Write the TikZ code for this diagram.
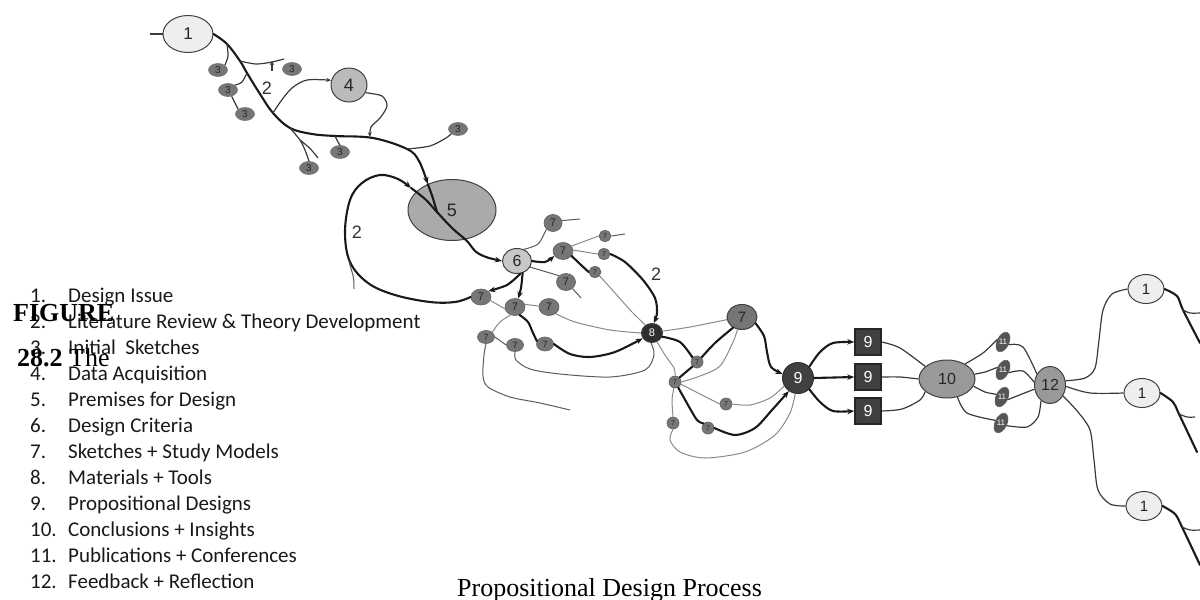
\documentclass[tikz,border=0pt]{standalone}
\usepackage{fontspec}
\setmainfont{Liberation Serif}
\newfontfamily\lab{Liberation Sans}
\newfontfamily\legfont{Carlito}
\usetikzlibrary{shapes.geometric,arrows.meta}
\definecolor{cA}{HTML}{EEEEEE}
\definecolor{cB}{HTML}{BBBBBB}
\definecolor{cC}{HTML}{AAAAAA}
\definecolor{cD}{HTML}{C8C8C8}
\definecolor{cE}{HTML}{767676}
\definecolor{cF}{HTML}{2E2E2E}
\definecolor{cG}{HTML}{404040}
\definecolor{cH}{HTML}{999999}
\definecolor{cI}{HTML}{555555}
\definecolor{lnthin}{HTML}{5A5A5A}
\definecolor{lnlite}{HTML}{8A8A8A}
\definecolor{lndark}{HTML}{3A3A3A}
\tikzset{
  fs/.style={font=\lab\fontsize{#1}{#1}\selectfont},
  thk/.style={line width=2.1pt, draw=black!90, line cap=round},
  thn/.style={line width=1pt, draw=lnthin},
  lite/.style={line width=1pt, draw=lnlite},
  dk/.style={line width=1.2pt, draw=lndark},
  tip/.style={-{Stealth[length=7pt,width=5.5pt]}},
  stip/.style={-{Stealth[length=5pt,width=4pt]}},
  big/.style={ellipse, draw=black!75, line width=1pt, inner sep=0pt, text=black!85},
  sthree/.style={ellipse, draw=black!55, line width=0.6pt, fill=cE, minimum width=19pt, minimum height=13pt, inner sep=0pt, fs=10, text=black!85},
  sseven/.style={ellipse, draw=black!60, line width=0.7pt, fill=cE, minimum width=20pt, minimum height=17pt, inner sep=0pt, fs=11, text=black!85},
  mseven/.style={sseven, minimum width=17pt, minimum height=13pt, fs=9},
  tseven/.style={sseven, minimum width=12pt, minimum height=11pt, fs=7},
  box9/.style={rectangle, draw=black!85, line width=1.6pt, fill=cG, minimum size=26pt, inner sep=0pt, fs=16, text=white},
  eleven/.style={ellipse, draw=black!60, line width=0.6pt, fill=cI, minimum width=12pt, minimum height=21pt, inner sep=0pt},
  twolab/.style={fs=18, text=black!80},
  leg/.style={font=\legfont\fontsize{21}{21}\selectfont, anchor=base west, inner sep=0pt, text=black!90}
}
\begin{document}
\begin{tikzpicture}[x=1pt,y=-1pt]
\useasboundingbox (0,0) rectangle (1200,600);

% ---------- nodes ----------
\node[big, fill=cA, minimum width=50pt, minimum height=37pt, fs=17] (t1) at (188,34) {1};
\node[big, fill=cB, minimum width=36pt, minimum height=34pt, fs=18] (four) at (349,85) {4};
\node[big, fill=cC, minimum width=88pt, minimum height=61pt, fs=18] (five) at (452,210) {5};
\node[big, fill=cD, minimum width=29pt, minimum height=25pt, fs=16] (six) at (517,261) {6};

\node[sthree] (ta) at (218,70) {3};
\node[sthree] (tb) at (228,90) {3};
\node[sthree] (tc) at (245,114) {3};
\node[sthree] (td) at (292,69) {3};
\node[sthree] (te) at (458,129) {3};
\node[sthree] (tf) at (340,152) {3};
\node[sthree] (tg) at (309,168) {3};

\node[sseven, minimum width=18pt] (sa) at (553,223) {7};
\node[tseven] (sb) at (605,236) {7};
\node[sseven] (sc) at (563,251) {7};
\node[tseven] (sd) at (604,254) {7};
\node[tseven] (se) at (595,272) {7};
\node[sseven, minimum width=19pt] (sf) at (566,282) {7};
\node[sseven, minimum height=16pt] (sg) at (481,297) {7};
\node[sseven] (sh) at (515,307) {7};
\node[sseven] (si) at (549,307) {7};
\node[mseven] (sj) at (486,337) {7};
\node[mseven] (sk) at (515,345) {7};
\node[mseven, minimum height=14pt] (sl) at (545,344) {7};

\node[big, fill=cF, minimum width=21pt, minimum height=19pt, fs=11, text=white] (eight) at (652,333) {8};
\node[big, fill=cE, minimum width=30pt, minimum height=25pt, fs=15] (sm) at (742,317) {7};
\node[tseven, minimum height=12pt] (un) at (697,362) {7};
\node[tseven, minimum height=12pt] (uo) at (675,382) {7};
\node[tseven, minimum height=12pt] (up) at (726,404) {7};
\node[tseven, minimum height=12pt] (uq) at (673,423) {7};
\node[tseven, minimum height=12pt] (ur) at (708,428) {7};

\node[circle, draw=black!80, line width=1pt, fill=cG, minimum size=31pt, inner sep=0pt, fs=16, text=white] (nine) at (798,378) {9};
\node[box9] (b1) at (868,342) {9};
\node[box9] (b2) at (868,377) {9};
\node[box9] (b3) at (868,411) {9};

\node[big, fill=cH, minimum width=56pt, minimum height=38pt, fs=16] (ten) at (947,379) {10};

\node[eleven, rotate=-25] (ea) at (1003,342) {};
\node[eleven, rotate=-25] (eb) at (1003,370) {};
\node[eleven, rotate=-25] (ec) at (1002,397) {};
\node[eleven, rotate=-25] (ed) at (1001,423) {};
\node[fs=8, text=white, inner sep=0pt] (la) at (ea) {11};
\node[fs=8, text=white, inner sep=0pt] (lb) at (eb) {11};
\node[fs=8, text=white, inner sep=0pt] (lc) at (ec) {11};
\node[fs=8, text=white, inner sep=0pt] (ld) at (ed) {11};

\node[big, fill=cH, minimum width=31pt, minimum height=37pt, fs=16] (twelve) at (1050,385) {12};
\node[big, fill=cA, minimum width=36pt, minimum height=29pt, fs=15] (ra) at (1146,289) {1};
\node[big, fill=cA, minimum width=36pt, minimum height=29pt, fs=15] (rb) at (1142,393) {1};
\node[big, fill=cA, minimum width=36pt, minimum height=29pt, fs=15] (rc) at (1144,506) {1};

\node[twolab] (two1) at (267,88) {2};
\node[twolab] (two2) at (357,232) {2};
\node[twolab] (two3) at (656,274) {2};

% ---------- free coordinates ----------
\coordinate (lin) at (150,34);
\coordinate (m1) at (227,44);
\coordinate (m2) at (240,61);
\coordinate (m3) at (247,73);
\coordinate (m4) at (273,113);
\coordinate (m5) at (290,128);
\coordinate (m5b) at (300,140);
\coordinate (m6) at (335,136);
\coordinate (m7) at (407,149);
\coordinate (m4b) at (370,137);
\coordinate (e1) at (284,59);
\coordinate (e2) at (318,158);
\coordinate (tk) at (272,71);
\coordinate (tkt) at (272,61);
\coordinate (x5) at (437,212);
\coordinate (l5) at (411,188);
\coordinate (tail2) at (354,289);
\coordinate (tail2b) at (349,262);
\coordinate (ea7) at (580,219);
\coordinate (eb7) at (625,234);
\coordinate (ef7) at (581,298);
\coordinate (ej7) at (570,410);
\coordinate (ra1) at (1200,343);
\coordinate (ra2) at (1183,310);
\coordinate (ra3) at (1200,313);
\coordinate (rb1) at (1197,452);
\coordinate (rb2) at (1179,414);
\coordinate (rb3) at (1195,417);
\coordinate (rc1) at (1200,565);
\coordinate (rc2) at (1182,527);
\coordinate (rc3) at (1200,530);

% ---------- top-left ----------
\draw[dk] (lin) -- (t1.west);
\draw[thk,tip] plot[smooth,tension=0.6] coordinates {(t1.east) (m1) (m2) (m3) (260,94) (m4) (m5) (312,134) (m6) (373,138) (m7) (419,161) (five.133)};
\draw[thk] (five.133) .. controls (432,195) .. (x5);
\draw[dk] plot[smooth] coordinates {(m1) (228,56) (ta.north east)};
\draw[dk] plot[smooth] coordinates {(m2) (256,64) (272,62) (e1)};
\draw[dk,-{Stealth[length=4pt,width=4pt]}] (tk) -- (tkt);
\draw[dk] plot[smooth] coordinates {(m3) (242,82) (tb.north east)};
\draw[dk] (tb.-60) -- (tc.north west);
\draw[dk,stip] plot[smooth] coordinates {(m4) (281,101) (292,88) (307,80) (four.165)};
\draw[dk,stip] plot[smooth] coordinates {(four.-25) (382,96) (387,106) (380,118) (371,127) (m4b)};
\draw[dk] plot[smooth] coordinates {(m5) (m5b) (305,150) (tg.north)};
\draw[dk] (m5b) .. controls (310,148) .. (e2);
\draw[dk] plot[smooth] coordinates {(m6) (338,142) (tf.north)};
\draw[dk] plot[smooth] coordinates {(m7) (430,146) (446,138) (te.south west)};

% ---------- loop and 5 -> 6 ----------
\draw[thk,tip] plot[smooth,tension=0.6] coordinates {(sg.west) (455,302) (430,302) (395,295) (368,283) (350,262) (345,232) (350,200) (362,183) (380,175) (398,179) (l5)};
\draw[thk,tip] plot[smooth,tension=0.6] coordinates {(l5) (425,199) (x5) (452,228) (467,241) (475,251) (486,257) (six.west)};
\draw[thn] (tail2) .. controls (354,278) .. (tail2b);

% ---------- 6 region ----------
\draw[thn] plot[smooth] coordinates {(six.60) (538,244) (sa.south west)};
\draw[thn] (sa.15) -- (ea7);
\draw[thn] (sb.east) -- (eb7);
\draw[thk,tip] plot[smooth] coordinates {(six.east) (545,262) (sc.210)};
\draw[lite] (sc.30) -- (sb.west);
\draw[lite] (sc.5) -- (sd.west);
\draw[thk,tip] plot[smooth] coordinates {(sd.east) (625,262) (643,280) (655,298) (657,313) (eight.80)};
\draw[thk] plot[smooth] coordinates {(sc.-30) (580,264) (se.west)};
\draw[lite] plot[smooth] coordinates {(se.-40) (615,293) (632,312) (eight.130)};
\draw[thn] plot[smooth] coordinates {(six.-25) (550,273) (sf.north west)};
\draw[thn] (sf.-45) -- (ef7);
\draw[thk,tip] plot[smooth] coordinates {(six.-75) (507,285) (sg.north east)};
\draw[thk,tip] plot[smooth] coordinates {(six.-65) (521,288) (sh.70)};
\draw[lite] (sg.-20) -- (sh.190);
\draw[lite] (sh.15) -- (si.175);
\draw[lite] plot[smooth] coordinates {(si.-45) (575,322) (610,330) (eight.west)};
\draw[lite] plot[smooth] coordinates {(sh.-120) (500,322) (sj.north east)};
\draw[thn] (sj.east) -- (sk.west);
\draw[thk] plot[smooth] coordinates {(sh.-60) (528,322) (533,333) (sl.160)};
\draw[thk,tip] plot[smooth] coordinates {(sl.east) (570,354) (590,357) (615,352) (eight.-150)};
\draw[thn] plot[smooth] coordinates {(sk.south) (516,360) (530,369) (560,374) (610,377) (645,370) (654,355) (eight.-95)};
\draw[thn] plot[smooth] coordinates {(sj.south) (484,355) (483,376) (488,387) (510,397) (540,403) (ej7)};

% ---------- 8 region ----------
\draw[lite] plot[smooth] coordinates {(eight.10) (690,327) (sm.190)};
\draw[thk] plot[smooth] coordinates {(eight.-20) (680,342) (un.north west)};
\draw[thk] plot[smooth] coordinates {(un.north east) (715,343) (sm.-130)};
\draw[thk] (uo.north east) -- (un.south west);
\draw[lite] plot[smooth] coordinates {(uo.east) (700,376) (720,366) (733,342) (sm.-110)};
\draw[lite] plot[smooth] coordinates {(eight.-60) (665,355) (674,368) (uo.north)};
\draw[lite] plot[smooth] coordinates {(uo.-20) (700,394) (up.west)};
\draw[lite] plot[smooth] coordinates {(up.east) (750,405) (770,398) (nine.-150)};
\draw[lite] plot[smooth] coordinates {(uo.-100) (672,400) (uq.north)};
\draw[thk] plot[smooth] coordinates {(uo.-60) (688,405) (697,420) (ur.north west)};
\draw[thk,tip] plot[smooth] coordinates {(ur.east) (735,435) (755,428) (772,410) (nine.-125)};
\draw[lite] plot[smooth] coordinates {(uq.south) (670,440) (680,452) (705,458) (745,452) (775,435) (790,413) (nine.-100)};
\draw[thk,tip] plot[smooth] coordinates {(sm.-25) (764,336) (767,352) (771,367) (nine.165)};

% ---------- 9 region ----------
\draw[thk,tip] plot[smooth] coordinates {(nine.45) (820,352) (833,343) (b1.west)};
\draw[thk,tip] (nine.east) -- (b2.west);
\draw[thk,tip] plot[smooth] coordinates {(nine.-45) (820,402) (833,411) (b3.west)};
\draw[dk] plot[smooth] coordinates {(b1.east) (900,348) (ten.150)};
\draw[dk] plot[smooth] coordinates {(b2.east) (900,377) (ten.west)};
\draw[dk] plot[smooth] coordinates {(b3.east) (902,409) (920,400) (ten.-150)};

% ---------- 10-11-12 ----------
\draw[dk] plot[smooth] coordinates {(ten.40) (983,353) (ea.west)};
\draw[dk] plot[smooth] coordinates {(ten.10) (985,372) (eb.west)};
\draw[dk] plot[smooth] coordinates {(ten.-15) (985,392) (ec.west)};
\draw[dk] plot[smooth] coordinates {(ten.-60) (967,413) (ed.west)};
\draw[dk] plot[smooth] coordinates {(ea.east) (1023,347) (twelve.140)};
\draw[dk] plot[smooth] coordinates {(eb.east) (1023,371) (twelve.170)};
\draw[dk] plot[smooth] coordinates {(ec.east) (1022,394) (twelve.-165)};
\draw[dk] plot[smooth] coordinates {(ed.east) (1027,427) (1038,417) (twelve.-120)};

% ---------- 12 -> 1 ----------
\draw[dk] plot[smooth] coordinates {(twelve.15) (1085,378) (1095,368) (1099,340) (1103,310) (1112,294) (ra.west)};
\draw[dk] plot[smooth] coordinates {(twelve.-5) (1090,393) (rb.west)};
\draw[dk] plot[smooth] coordinates {(twelve.-40) (1078,412) (1090,430) (1094,460) (1098,490) (1110,504) (rc.west)};
\draw[thk] plot[smooth] coordinates {(ra.east) (1177,296) (ra2) (ra1)};
\draw[dk] plot[smooth] coordinates {(ra2) (1190,313) (ra3)};
\draw[thk] plot[smooth] coordinates {(rb.east) (1173,402) (rb2) (rb1)};
\draw[dk] plot[smooth] coordinates {(rb2) (1187,417) (rb3)};
\draw[thk] plot[smooth] coordinates {(rc.east) (1175,514) (rc2) (rc1)};
\draw[dk] plot[smooth] coordinates {(rc2) (1190,530) (rc3)};

% ---------- legend ----------
\foreach \i/\t in {1/Design Issue, 2/Literature Review \& Theory Development, 3/Initial\ \ Sketches, 4/Data Acquisition, 5/Premises for Design, 6/Design Criteria, 7/Sketches + Study Models, 8/Materials + Tools, 9/Propositional Designs, 10/Conclusions + Insights, 11/Publications + Conferences, 12/Feedback + Reflection}{
  \node[leg] (ln\i) at (30,{302+26*(\i-1)}) {\i.};
  \node[leg] (lt\i) at (68,{302+26*(\i-1)}) {\t};
}
\node[anchor=base west, inner sep=0pt, font=\fontsize{26}{26}\selectfont\bfseries] (figa) at (13,321) {FIGURE};
\node[anchor=base west, inner sep=0pt, font=\fontsize{26}{26}\selectfont] (figb) at (17,366) {\textbf{28.2} The};
\node[anchor=base west, inner sep=0pt, font=\fontsize{26}{26}\selectfont] (cap) at (457,596) {Propositional Design Process};
\end{tikzpicture}
\end{document}
